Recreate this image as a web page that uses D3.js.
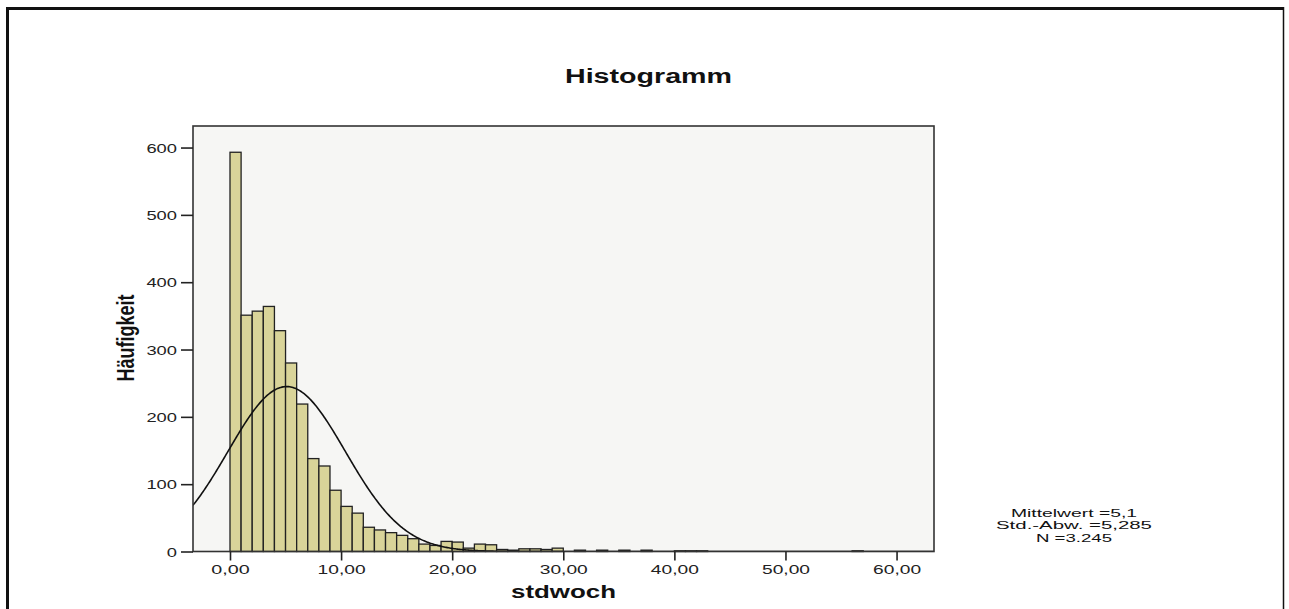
<!DOCTYPE html>
<html>
<head>
<meta charset="utf-8">
<script src="https://cdn.jsdelivr.net/npm/d3@7"></script>
<style>
    body { margin: 0; background: #fff; }
    svg { display: block; font-family: "Liberation Sans", Arial, sans-serif; }
</style>
</head>
<body>
<div id="chart"></div>
<script>
// Histogramm stdwoch (SPSS style) - bins of width 1 starting at 0

const binStart = 0;
const binWidth = 1;
const counts = [
    593, 351, 357, 364, 328, 280, 219, 138, 127, 91,
    67, 57, 36, 32, 28, 24, 19, 11, 9, 15,
    14, 5, 11, 10, 3, 2, 4, 4, 3, 5,
    0, 2, 0, 2, 0, 2, 0, 2, 0, 0,
    1, 1, 1, 0, 0, 0, 0, 0, 0, 0,
    0, 0, 0, 0, 0, 0, 1
];
const xTicks = [0, 10, 20, 30, 40, 50, 60];
const yTicks = [0, 100, 200, 300, 400, 500, 600];
const meanValue = 5.1;
const sdValue = 5.285;
const nValue = 3245;
const statLines = ['Mittelwert =5,1', 'Std.-Abw. =5,285', 'N =3.245'];

const width = 1289;
const height = 609;

// plot area
const plot = { left: 193, top: 126, right: 934, bottom: 551.5 };

const svg = d3.select('#chart')
    .append('svg')
    .attr('width', width)
    .attr('height', height);

// outer frame (bottom edge is cut off)
svg.append('path')
    .attr('d', `M7.5,${height} V8.5 H1283`)
    .attr('fill', 'none')
    .attr('stroke', '#111')
    .attr('stroke-width', 3);
svg.append('line')
    .attr('x1', 1283.5).attr('x2', 1283.5)
    .attr('y1', 7).attr('y2', height)
    .attr('stroke', '#111')
    .attr('stroke-width', 1.5);

const x = d3.scaleLinear()
    .domain([-3.33, 63.37])
    .range([plot.left, plot.right]);

const y = d3.scaleLinear()
    .domain([0, 632])
    .range([plot.bottom, plot.top]);

// background of plot
svg.append('rect')
    .attr('x', plot.left)
    .attr('y', plot.top)
    .attr('width', plot.right - plot.left)
    .attr('height', plot.bottom - plot.top)
    .attr('fill', '#f6f6f4');

svg.append('clipPath')
    .attr('id', 'plot-clip')
    .append('rect')
    .attr('x', plot.left)
    .attr('y', plot.top)
    .attr('width', plot.right - plot.left)
    .attr('height', plot.bottom - plot.top);

// bars
const bins = counts.map((c, i) => ({
    x0: binStart + i * binWidth,
    x1: binStart + (i + 1) * binWidth,
    count: c
})).filter(d => d.count > 0);

svg.append('g')
    .selectAll('rect')
    .data(bins)
    .enter()
    .append('rect')
    .attr('x', d => x(d.x0))
    .attr('y', d => y(d.count))
    .attr('width', d => x(d.x1) - x(d.x0))
    .attr('height', d => y(0) - y(d.count))
    .attr('fill', '#d9d499')
    .attr('stroke', '#222')
    .attr('stroke-width', 1.3);

// normal curve scaled to the histogram
const pdf = v => Math.exp(-0.5 * Math.pow((v - meanValue) / sdValue, 2)) / (sdValue * Math.sqrt(2 * Math.PI));
const curvePts = d3.range(x.domain()[0], x.domain()[1] + 0.1, 0.1)
    .map(v => [v, nValue * binWidth * pdf(v)]);

svg.append('path')
    .datum(curvePts)
    .attr('clip-path', 'url(#plot-clip)')
    .attr('fill', 'none')
    .attr('stroke', '#111')
    .attr('stroke-width', 1.6)
    .attr('d', d3.line().x(d => x(d[0])).y(d => y(d[1])));

// plot border
svg.append('rect')
    .attr('x', plot.left)
    .attr('y', plot.top)
    .attr('width', plot.right - plot.left)
    .attr('height', plot.bottom - plot.top)
    .attr('fill', 'none')
    .attr('stroke', '#333')
    .attr('stroke-width', 1.6);

// axes
const fmtDe = v => d3.format('.2f')(v).replace('.', ',');

const xAxis = svg.append('g')
    .attr('transform', `translate(0,${plot.bottom})`)
    .call(d3.axisBottom(x).tickValues(xTicks).tickFormat(fmtDe).tickSize(9).tickSizeOuter(0));
xAxis.select('.domain').remove();
xAxis.selectAll('.tick line').attr('stroke', '#222').attr('stroke-width', 1.6);
xAxis.selectAll('.tick text')
    .attr('y', 22.5)
    .attr('dy', null)
    .attr('fill', '#222')
    .style('font-size', '12.5px')
    .attr('textLength', d => fmtDe(d).length * 9.6)
    .attr('lengthAdjust', 'spacingAndGlyphs');

const yAxis = svg.append('g')
    .attr('transform', `translate(${plot.left},0)`)
    .call(d3.axisLeft(y).tickValues(yTicks).tickSize(12).tickSizeOuter(0));
yAxis.select('.domain').remove();
yAxis.selectAll('.tick line').attr('stroke', '#222').attr('stroke-width', 1.6);
yAxis.selectAll('.tick text')
    .attr('x', -16)
    .attr('dy', '0.36em')
    .attr('fill', '#222')
    .style('font-size', '13px')
    .attr('textLength', d => String(d).length * 10.2)
    .attr('lengthAdjust', 'spacingAndGlyphs');

// title
svg.append('text')
    .attr('x', 648.5)
    .attr('y', 83)
    .attr('text-anchor', 'middle')
    .attr('font-weight', 'bold')
    .attr('font-size', 20)
    .attr('fill', '#111')
    .attr('textLength', 167)
    .attr('lengthAdjust', 'spacingAndGlyphs')
    .text('Histogramm');

// axis titles
svg.append('text')
    .attr('x', 563.5)
    .attr('y', 598)
    .attr('text-anchor', 'middle')
    .attr('font-weight', 'bold')
    .attr('font-size', 18)
    .attr('fill', '#111')
    .attr('textLength', 105)
    .attr('lengthAdjust', 'spacingAndGlyphs')
    .text('stdwoch');

svg.append('text')
    .attr('transform', 'translate(134,338) scale(1.35,1) rotate(-90)')
    .attr('text-anchor', 'middle')
    .attr('font-weight', 'bold')
    .attr('font-size', 18)
    .attr('fill', '#111')
    .attr('textLength', 87)
    .attr('lengthAdjust', 'spacingAndGlyphs')
    .text('Häufigkeit');

// statistics box
const statWidths = [126, 156, 76];
svg.append('g')
    .selectAll('text')
    .data(statLines)
    .enter()
    .append('text')
    .attr('x', 1074)
    .attr('y', (d, i) => 516.5 + i * 12.5)
    .attr('text-anchor', 'middle')
    .attr('font-size', 11.5)
    .attr('fill', '#111')
    .attr('textLength', (d, i) => statWidths[i])
    .attr('lengthAdjust', 'spacingAndGlyphs')
    .text(d => d);
</script>
</body>
</html>
